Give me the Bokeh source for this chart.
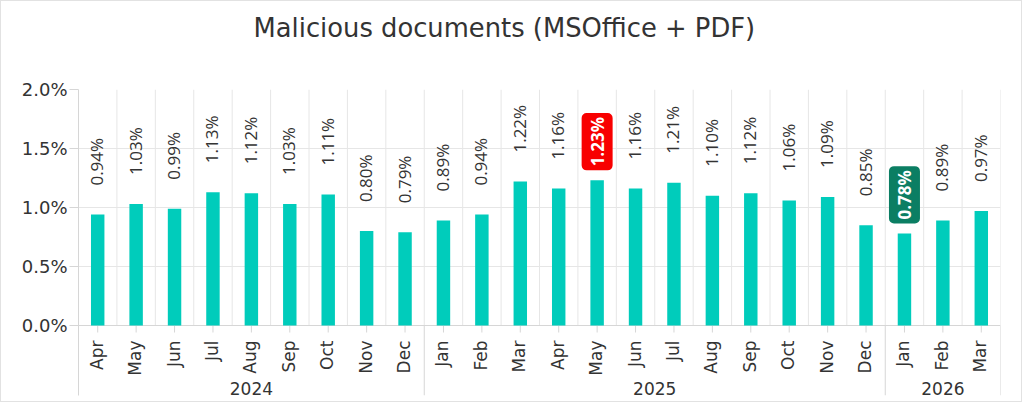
import math
from bokeh.plotting import figure
from bokeh.models import Range1d, FixedTicker, PrintfTickFormatter, ColumnDataSource, Title
from bokeh.core.properties import value
from bokeh.embed import file_html
from bokeh.resources import INLINE

# ---------------- data ----------------
years = ["2024"] * 9 + ["2025"] * 12 + ["2026"] * 3
months = ["Apr", "May", "Jun", "Jul", "Aug", "Sep", "Oct", "Nov", "Dec",
          "Jan", "Feb", "Mar", "Apr", "May", "Jun", "Jul", "Aug", "Sep", "Oct", "Nov", "Dec",
          "Jan", "Feb", "Mar"]
shares = [0.94, 1.03, 0.99, 1.13, 1.12, 1.03, 1.11, 0.80, 0.79,
          0.89, 0.94, 1.22, 1.16, 1.23, 1.16, 1.21, 1.10, 1.12, 1.06, 1.09, 0.85,
          0.78, 0.89, 0.97]
y_ticks = [0.0, 0.5, 1.0, 1.5, 2.0]
title_text = "Malicious documents (MSOffice + PDF)"

# ---------------- styling ----------------
BAR = "#00ccbb"
RED = "#f80000"
GREEN = "#0b7e63"
GRID = "#e6e6e6"
AXIS = "#d6d6d6"
TXT = "#333333"
PPU = 118.0            # pixels per 1 percentage point
Y_LO = -70.0 / PPU     # room below zero for month / year labels
Y_HI = 2.0

n = len(shares)
xs = [i + 0.5 for i in range(n)]

p = figure(width=1022, height=402, output_backend="svg", toolbar_location=None,
           x_range=Range1d(0, n), y_range=Range1d(Y_LO, Y_HI),
           x_axis_location=None,
           min_border_left=77, min_border_right=23, min_border_top=88, min_border_bottom=8)
p.styles = {"border": "1px solid #e2e2e2"}
p.outline_line_color = None
p.background_fill_color = "white"
p.border_fill_color = "white"

# spacer (closest to frame) then the real title
p.add_layout(Title(text=" ", text_font_size="1px", standoff=44), "above")
t = Title(text=title_text, align="left", offset=175, standoff=0,
          text_font="DejaVu Sans", text_font_size="25.8px", text_font_style="normal",
          text_color=TXT)
p.add_layout(t, "above")

# y axis
p.yaxis.ticker = FixedTicker(ticks=y_ticks)
p.yaxis.formatter = PrintfTickFormatter(format="%.1f%%")
p.yaxis.major_label_text_font = "DejaVu Sans"
p.yaxis.major_label_text_font_size = "18px"
p.yaxis.major_label_text_color = TXT
p.yaxis.axis_line_color = AXIS
p.yaxis.major_tick_line_color = AXIS
p.yaxis.major_tick_out = 9
p.yaxis.major_tick_in = 0
p.yaxis.minor_tick_line_color = None
p.yaxis.major_label_standoff = 2

p.xgrid.grid_line_color = None
p.ygrid.ticker = FixedTicker(ticks=[v for v in y_ticks if v > 0])
p.ygrid.grid_line_color = GRID

# vertical grid lines at category boundaries
bounds = list(range(1, n + 1))
p.segment(x0=bounds, x1=bounds, y0=[0] * len(bounds), y1=[Y_HI] * len(bounds),
          line_color=GRID, line_width=1)

# group separators below the axis
seps = [i for i in range(1, n) if years[i] != years[i - 1]] + [n]
p.segment(x0=seps, x1=seps, y0=[Y_LO] * len(seps), y1=[0] * len(seps),
          line_color=AXIS, line_width=1)

# x axis line and ticks
p.segment(x0=[0], x1=[n], y0=[0], y1=[0], line_color=AXIS, line_width=1)
p.segment(x0=xs, x1=xs, y0=[0] * n, y1=[-7.0 / PPU] * n, line_color=AXIS, line_width=1)

# bars
p.vbar(x=xs, top=shares, width=0.35, bottom=0, color=BAR, line_color=None)

# month labels
p.text(x=xs, y=[-15.0 / PPU] * n, text=months, angle=math.pi / 2,
       text_align="right", text_baseline="alphabetic", x_offset=-1,
       text_font=value("DejaVu Sans"), text_font_size="17px", text_color=TXT)

# year labels
uy = []
for y in years:
    if y not in uy:
        uy.append(y)
ycx = [sum(x for x, yy in zip(xs, years) if yy == y) / years.count(y) for y in uy]
p.text(x=ycx, y=[-63.0 / PPU] * len(uy), text=uy, text_align="center", text_baseline="middle",
       text_font=value("DejaVu Sans"), text_font_size="17px", text_color=TXT)

# value labels
imax = shares.index(max(shares))
imin = shares.index(min(shares))
labels = ["%.2f%%" % v for v in shares]
norm = [i for i in range(n) if i not in (imax, imin)]
src = ColumnDataSource(dict(x=[xs[i] for i in norm], y=[shares[i] + 29.0 / PPU for i in norm],
                            t=[labels[i] for i in norm]))
p.text(x="x", y="y", text="t", source=src, angle=math.pi / 2, text_align="left",
       text_baseline="middle", x_offset=-1,
       text_font=value("Open Sans"), text_font_size="17px", text_color=TXT)

for i, c in ((imax, RED), (imin, GREEN)):
    p.text(x=[xs[i]], y=[shares[i] + 10.0 / PPU], text=[labels[i]], angle=math.pi / 2,
           text_align="left", text_baseline="middle",
           text_font=value("Open Sans"), text_font_size="17px", text_font_style="bold",
           text_color="white", background_fill_color=c, border_radius=5, padding=4)

open("out.html", "w").write(file_html(p, INLINE))
